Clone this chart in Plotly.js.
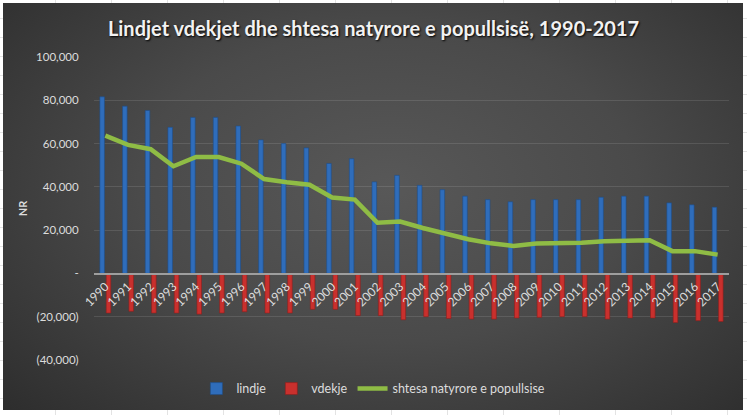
<!DOCTYPE html>
<html>
<head>
<meta charset="utf-8">
<script src="https://cdn.plot.ly/plotly-3.0.1.min.js"></script>
<style>
  html, body { margin:0; padding:0; width:747px; height:415px; overflow:hidden;
    background-color:#ffffff;
    background-image:
      repeating-linear-gradient(to bottom, transparent 0, transparent 18px, #e3e3e3 18px, #e3e3e3 19px),
      repeating-linear-gradient(to right, transparent 0, transparent 55px, #e3e3e3 55px, #e3e3e3 56px);
  }
  #frame { position:absolute; left:3px; top:3px; width:740px; height:407px;
    background: radial-gradient(ellipse 75% 85% at 52% 45%, #585858 0%, #4a4a4a 45%, #333333 85%, #2a2a2a 100%);
  }
  #chart { position:absolute; left:0; top:0; width:747px; height:415px; }
</style>
</head>
<body>
<div id="frame"></div>
<div id="chart"></div>
<script>
const years = ["1990","1991","1992","1993","1994","1995","1996","1997","1998","1999","2000","2001","2002","2003","2004","2005","2006","2007","2008","2009","2010","2011","2012","2013","2014","2015","2016","2017"];
const lindje = [81600, 77300, 75300, 67500, 72100, 72100, 68100, 61700, 60000, 58000, 50800, 53000, 42300, 45300, 40700, 38700, 35700, 34100, 33100, 34100, 34100, 34100, 35200, 35700, 35700, 32600, 31700, 30600];
const vdekje = [-18300, -17500, -18300, -18300, -18800, -18300, -17700, -18300, -18300, -16600, -16600, -19500, -19500, -21400, -20000, -20800, -21100, -21100, -20600, -20300, -20000, -20000, -21100, -20600, -20600, -22700, -21800, -22200];
const shtesa = [63700, 59400, 57400, 49500, 53800, 53800, 50700, 43600, 42100, 41000, 35100, 34100, 23400, 24000, 21000, 18400, 15800, 13900, 12700, 13800, 13800, 14200, 14900, 15300, 15300, 10300, 10300, 8700];
const yTickVals = [-40000, -20000, 0, 20000, 40000, 60000, 80000, 100000];
const yTickText = ["(40,000)", "(20,000)", "-", "20,000", "40,000", "60,000", "80,000", "100,000"];
const seriesNames = ["lindje", "vdekje", "shtesa natyrore e popullsise"];
const titleText = "Lindjet vdekjet dhe shtesa natyrore e popullsisë, 1990-2017";
const yTitle = "NR";

const FONT = "Lato, 'Open Sans', sans-serif";
const LABEL = "#dcdcdc";

const traces = [
  { type:"bar", name:seriesNames[0], x:years, y:lindje,
    marker:{ color:"#2f6dbb", line:{ color:"#1f4f8c", width:0.6 } } },
  { type:"bar", name:seriesNames[1], x:years, y:vdekje,
    marker:{ color:"#c9302d", line:{ color:"#8e1f1c", width:0.6 } } },
  { type:"scatter", mode:"lines", name:seriesNames[2], x:years, y:shtesa,
    line:{ color:"#8fbc45", width:4.5 } }
];

const layout = {
  width:747, height:415,
  paper_bgcolor:"rgba(0,0,0,0)", plot_bgcolor:"rgba(0,0,0,0)",
  margin:{ l:94, r:18, t:57, b:54 },
  barmode:"group", bargap:0.44, bargroupgap:0.28,
  font:{ family:FONT, color:LABEL, size:11 },
  title:{ text:titleText, x:0.5, xref:"container", xanchor:"center",
    y:1-29/415, yref:"container", yanchor:"middle",
    font:{ family:FONT, size:20, weight:"bold", color:"#f2f2f2", shadow:"1px 1px 2px #000" } },
  xaxis:{ type:"category", anchor:"free", position:40000/140000,
    showline:true, linecolor:"#9e9e9e", linewidth:1.5, showgrid:false, zeroline:false,
    ticks:"", tickangle:-45, tickfont:{ family:FONT, size:12, color:LABEL },
    range:[-0.5, 27.5] },
  yaxis:{ range:[-40000, 100000], tickvals:yTickVals, ticktext:yTickText,
    showgrid:true, gridcolor:"rgba(255,255,255,0.11)", gridwidth:1.2, zeroline:false,
    ticks:"outside", ticklen:12, tickcolor:"rgba(0,0,0,0)",
    tickfont:{ family:FONT, size:11.5, color:LABEL },
    title:{ text:yTitle, standoff:6, font:{ family:FONT, size:11, weight:"bold", color:LABEL } } },
  showlegend:true,
  legend:{ orientation:"h", x:0.44, xanchor:"center", y:-0.092, yanchor:"middle",
    font:{ family:FONT, size:12.5, color:LABEL }, bgcolor:"rgba(0,0,0,0)", itemwidth:30 }
};

Plotly.newPlot("chart", traces, layout, { displayModeBar:false, staticPlot:true });
</script>
</body>
</html>
